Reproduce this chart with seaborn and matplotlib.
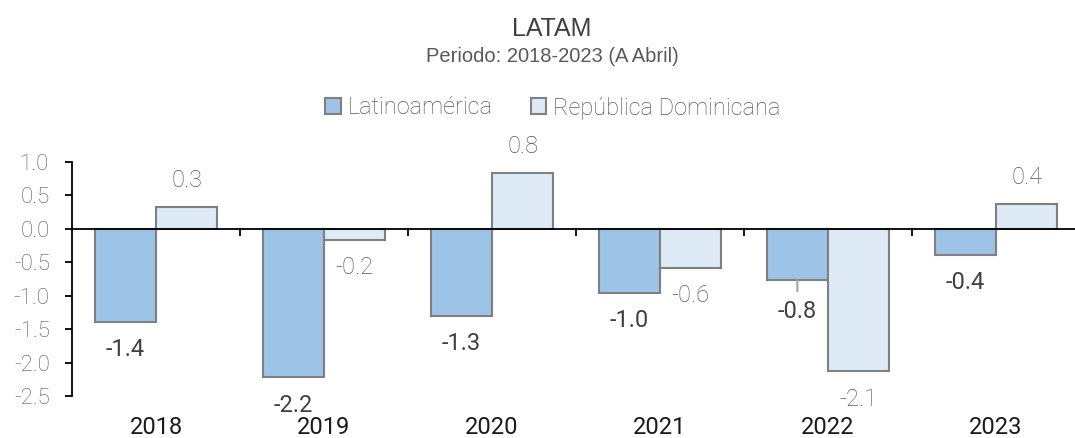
import pandas as pd
import matplotlib.pyplot as plt
import matplotlib.transforms as mtransforms
import seaborn as sns

# values
years = ["2018", "2019", "2020", "2021", "2022", "2023"]
latam = [-1.39, -2.22, -1.30, -0.96, -0.76, -0.39]
rep_dom = [0.33, -0.16, 0.84, -0.58, -2.13, 0.37]
series_names = ["Latinoamérica", "República Dominicana"]
y_ticks = [1.0, 0.5, 0.0, -0.5, -1.0, -1.5, -2.0, -2.5]

COLORS = ["#9DC3E6", "#DEEBF7"]
EDGE = "#808080"

df = pd.DataFrame({
    "year": years * 2,
    "value": latam + rep_dom,
    "serie": [series_names[0]] * len(years) + [series_names[1]] * len(years),
})

sns.set_theme(style="white")
plt.rcParams["font.family"] = ["Roboto", "DejaVu Sans"]

fig = plt.figure(figsize=(10.75, 4.38), dpi=100)
ax = fig.add_axes([72 / 1075, 42 / 438, 1008 / 1075, 234 / 438])

sns.barplot(
    data=df, x="year", y="value", hue="serie",
    palette=COLORS, saturation=1, width=0.73,
    edgecolor=EDGE, linewidth=1.5, ax=ax,
)

ax.set_ylim(-2.5, 1.0)
ax.set_xlim(-0.5, 5.5)
ax.set_yticks(y_ticks)
ax.set_yticklabels([f"{t:.1f}" for t in y_ticks], fontsize=16, color="#595959",
                   fontweight="light")
ax.set_xlabel("")
ax.set_ylabel("")

# x axis sits at zero, with ticks between categories
ax.spines["bottom"].set_position(("data", 0))
ax.spines["top"].set_visible(False)
ax.spines["right"].set_visible(False)
for s in ("left", "bottom"):
    ax.spines[s].set_color("black")
    ax.spines[s].set_linewidth(1.3)
ax.set_xticks([i + 0.5 for i in range(len(years) - 1)])
ax.set_xticklabels([])
ax.tick_params(axis="x", bottom=True, direction="out", length=5, width=1.3,
               color="black")
ax.tick_params(axis="y", left=True, direction="out", length=5, width=1.3,
               color="black", pad=11)

# category labels at the bottom of the plot
trans = mtransforms.blended_transform_factory(ax.transData, ax.transAxes)
for i, yr in enumerate(years):
    ax.text(i, -0.135, yr, transform=trans, ha="center", va="center",
            fontsize=17, color="#1a1a1a")

# data labels
label_style = [
    dict(color="#404040", fontsize=17, fontweight="normal"),
    dict(color="#595959", fontsize=17, fontweight="light"),
]
for k, cont in enumerate(ax.containers):
    for j, bar in enumerate(cont):
        h = bar.get_height()
        x = bar.get_x() + bar.get_width() / 2
        off = 19 if h >= 0 else -20
        extra = {}
        if k == 0 and years[j] == "2022":
            off = -23
            extra = dict(arrowprops=dict(arrowstyle="-", color="#a6a6a6", lw=1.5,
                                         shrinkA=4, shrinkB=0))
        ax.annotate(f"{h:.1f}", xy=(x, h), xytext=(0, off),
                    textcoords="offset points", ha="center", va="center",
                    **label_style[k], **extra)

# legend
handles, labels = ax.get_legend_handles_labels()
ax.legend(handles, labels, loc="center", bbox_to_anchor=(553 / 1075, 1 - 108 / 438),
          bbox_transform=fig.transFigure, ncol=2, frameon=False,
          handlelength=0.65, handleheight=0.65, handletextpad=0.3,
          columnspacing=1.6, prop=dict(family="Roboto", weight="light", size=17),
          labelcolor="#595959")

fig.text(552 / 1075, 1 - 29 / 438, "LATAM", ha="center", va="center",
         fontsize=18, color="#404040", family="Liberation Sans")
fig.text(552 / 1075, 1 - 57 / 438, "Periodo: 2018-2023 (A Abril)", ha="center",
         va="center", fontsize=14.5, color="#595959", family="Liberation Sans")

fig.savefig("out.png", dpi=100)
